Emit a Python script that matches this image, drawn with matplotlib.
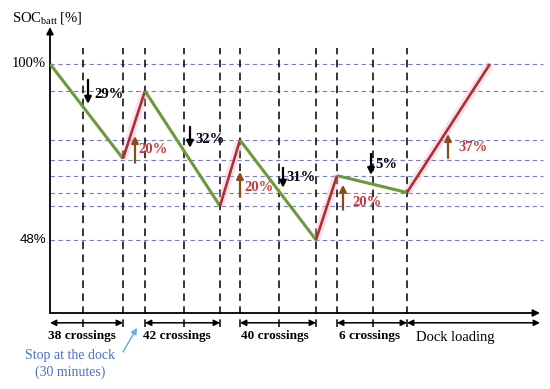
import matplotlib
matplotlib.use("Agg")
import matplotlib.pyplot as plt

plt.rcParams['mathtext.fontset'] = 'custom'
plt.rcParams['mathtext.rm'] = 'Liberation Serif'
plt.rcParams['mathtext.it'] = 'Liberation Serif:italic'
plt.rcParams['mathtext.bf'] = 'Liberation Serif:bold'

# ---- data ----
event_time = [0, 73, 95, 170, 190, 266, 287, 357, 440]
soc = [100, 72, 92, 58, 77.5, 48, 67, 62, 100]
grid_levels = [100, 92, 77.5, 71.5, 67, 62, 58, 48]
marker_times = [33, 73, 95, 134, 170, 190, 229, 266, 287, 323, 357]

drop_labels = ["29%", "32%", "31%", "5%"]
drop_t = [38, 140, 233, 321]
drop_top = [95.3, 81.4, 69.3, 73.4]
drop_bot = [88.2, 75.2, 63.4, 67.2]
drop_text_t = [44, 145, 236, 325]
drop_text_y = [91.1, 77.8, 66.3, 70.2]

rise_labels = ["20%", "20%", "20%", "37%"]
rise_t = [85, 190, 293, 398]
rise_bot = [70.8, 60.7, 56.9, 72.2]
rise_top = [78.7, 68.1, 64.3, 79.3]
rise_text_t = [88, 194, 302, 408]
rise_text_y = [74.6, 63.4, 58.9, 75.2]

phase_labels = ["38 crossings", "42 crossings", "40 crossings", "6 crossings", "Dock loading"]
phase_start = [0, 95, 190, 287, 357]
phase_end = [73, 170, 266, 357, 490]
phase_label_t = [32, 127, 225, 320, 366]

ytick_vals = [100, 48]
ytick_labels = ["100%", "48%"]

# ---- figure ----
fig = plt.figure(figsize=(5.5, 3.89), dpi=100)
ax = fig.add_axes([50/550, (389-313)/389, 490/550, 286/389])
ax.set_xlim(0, 490)
ax.set_ylim(26.4, 110.9)
ax.axis('off')

serif = 'Liberation Serif'
green = '#6b9a3a'
red = '#a8332a'
pink = '#ffa6d6'
brown = '#8b4a1a'
redtxt = '#c9383a'
gridc = '#7a7fc0'

# horizontal guide lines
for lv in grid_levels:
    ax.plot([0, 493], [lv, lv], color=gridc, lw=0.8, ls=(0, (4, 3)), clip_on=False, zorder=1)

# vertical dashed lines
for t in marker_times:
    ax.plot([t, t], [22.3, 104.7], color='black', lw=1.1, ls=(0, (5, 3.5)), clip_on=False, zorder=1)

# SOC path
for i in range(len(event_time) - 1):
    xs = event_time[i:i+2]
    ys = soc[i:i+2]
    if ys[1] < ys[0]:
        ax.plot(xs, ys, color=green, lw=2.2, solid_capstyle='butt', zorder=4)
    else:
        ax.plot(xs, ys, color=pink, lw=6, alpha=0.35, solid_capstyle='butt', zorder=3)
        ax.plot(xs, ys, color=red, lw=1.9, solid_capstyle='butt', zorder=4)

# drop annotations
for lab, t, y0, y1, tt, ty in zip(drop_labels, drop_t, drop_top, drop_bot, drop_text_t, drop_text_y):
    ax.annotate('', xy=(t, y1), xytext=(t, y0),
                arrowprops=dict(arrowstyle='-|>', color='black', lw=1.6, mutation_scale=10,
                                shrinkA=0, shrinkB=0), zorder=5)
    ax.text(tt, ty, lab, fontfamily=serif, fontweight='bold', fontsize=10.5,
            color='black', ha='left', va='center', zorder=5)

# rise annotations
for lab, t, y0, y1, tt, ty in zip(rise_labels, rise_t, rise_bot, rise_top, rise_text_t, rise_text_y):
    ax.annotate('', xy=(t, y1), xytext=(t, y0),
                arrowprops=dict(arrowstyle='-|>', color=brown, lw=1.6, mutation_scale=10,
                                shrinkA=0, shrinkB=0), zorder=5)
    ax.text(tt, ty, lab, fontfamily=serif, fontweight='bold', fontsize=10.5,
            color=redtxt, ha='left', va='center', zorder=5)

# axes arrows
ax.annotate('', xy=(0, 110.9), xytext=(0, 26.4),
            arrowprops=dict(arrowstyle='-|>', color='black', lw=1.3, mutation_scale=10,
                            shrinkA=0, shrinkB=0), annotation_clip=False)
ax.annotate('', xy=(490, 26.4), xytext=(0, 26.4),
            arrowprops=dict(arrowstyle='-|>', color='black', lw=1.3, mutation_scale=10,
                            shrinkA=0, shrinkB=0), annotation_clip=False)

# y labels
ax.text(-38, 113.6, r'SOC$_{\mathrm{batt}}$ [%]', fontfamily=serif, fontsize=10.5,
        ha='left', va='center', clip_on=False)
ax.text(-4, ytick_vals[0], ytick_labels[0], fontfamily=serif, fontsize=10.5,
        ha='right', va='center', clip_on=False)
ax.text(-4, ytick_vals[1], ytick_labels[1], family=['Liberation Sans'], fontsize=9.5,
        ha='right', va='center', clip_on=False)

# phase bars
bar_y = 23.5
for i, (lab, s, e, lt) in enumerate(zip(phase_labels, phase_start, phase_end, phase_label_t)):
    ax.annotate('', xy=(e, bar_y), xytext=(s, bar_y),
                arrowprops=dict(arrowstyle='<|-|>', color='black', lw=1.1, mutation_scale=9,
                                shrinkA=0, shrinkB=0), annotation_clip=False)
    if i < len(phase_labels) - 1:
        ax.text(lt, 19.6, lab, fontfamily=serif, fontweight='bold', fontsize=9.5,
                ha='center', va='center', clip_on=False)
    else:
        ax.text(lt, 19.3, lab, fontfamily=serif, fontsize=10.5,
                ha='left', va='center', clip_on=False)

# dock stop note
ax.text(20, 11.4, 'Stop at the dock\n(30 minutes)', fontfamily=serif, fontsize=10,
        color='#4a6fc6', ha='center', va='center', linespacing=1.35, clip_on=False)
ax.annotate('', xy=(87, 22.0), xytext=(73, 14.9),
            arrowprops=dict(arrowstyle='-|>', color='#6aaae0', lw=1.0, mutation_scale=9,
                            shrinkA=0, shrinkB=0), annotation_clip=False)

fig.savefig('out.png', dpi=100)
